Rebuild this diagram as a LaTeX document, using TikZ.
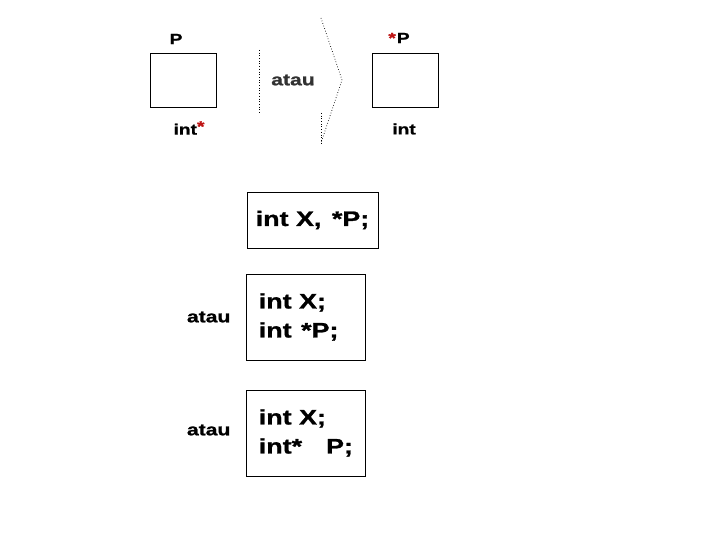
\documentclass[tikz,border=0pt]{standalone}
\usepackage{fontspec}
\setmainfont{Liberation Sans}
\newfontfamily\wideSans[FakeStretch=1.28, BoldFeatures={FakeBold=1.2}]{Liberation Sans}
\usetikzlibrary{positioning}
\definecolor{StarRed}{RGB}{190, 20, 20}
\definecolor{WordGray}{RGB}{50, 50, 50}

\begin{document}
\begin{tikzpicture}[
        x=1pt, y=-1pt,
        % Boxes
        cellBox/.style={rectangle, draw=black, line width=0.8pt, fill=white, inner sep=0pt},
        codeText/.style={rectangle, align=left, inner sep=0pt,
            font=\wideSans\fontsize{21}{29}\selectfont\bfseries},
        % Labels
        ptrLabel/.style={font=\wideSans\fontsize{15}{18}\selectfont\bfseries, inner sep=0pt},
        orWord/.style={font=\wideSans\fontsize{16.5}{19}\selectfont\bfseries, text=WordGray, inner sep=0pt},
        % Dotted guide lines
        guideLine/.style={dotted, line width=0.7pt, draw=black}
    ]
    \useasboundingbox (0,0) rectangle (720,540);

    % --- TOP: POINTER BEFORE / AFTER ---
    \node[cellBox, minimum width=66pt, minimum height=54pt] (boxL) at (183, 80) {};
    \node[cellBox, minimum width=66pt, minimum height=54pt] (boxR) at (405, 80) {};

    \node[ptrLabel] (pL)   at (176, 39)  {P};
    \node[ptrLabel] (intL) at (189, 128) {int\raisebox{3pt}{\textcolor{StarRed}{*}}};
    \node[ptrLabel] (pR)   at (399, 38)  {\textcolor{StarRed}{*}\hspace{1pt}P};
    \node[ptrLabel] (intR) at (404, 129) {int};

    \node[orWord] (or0) at (293, 80) {atau};

    % separator and chevron
    \coordinate (sepTop) at (259, 50);
    \coordinate (sepBot) at (259, 113);
    \coordinate (chevTop) at (321, 18);
    \coordinate (chevTip) at (342, 80);
    \coordinate (chevBot) at (321, 143);
    \coordinate (stemTop) at (321, 113);
    \draw[guideLine] (sepTop) -- (sepBot);
    \draw[guideLine] (chevTop) -- (chevTip) -- (chevBot);
    \draw[guideLine] (stemTop) -- (chevBot);

    % --- BOTTOM: THREE WAYS TO DECLARE ---
    \node[cellBox, minimum width=131pt, minimum height=56pt] (frame1) at (312.5, 220) {};
    \node[codeText, anchor=center] (code1) at (frame1) {int X,\hspace{3pt} *P;};

    \node[cellBox, minimum width=119pt, minimum height=86pt] (frame2) at (305.5, 317) {};
    \node[codeText, anchor=west] (code2) at ([xshift=13pt]frame2.west) {int X;\\int \hspace{2pt}*P;};

    \node[cellBox, minimum width=119pt, minimum height=86pt] (frame3) at (305.5, 433) {};
    \node[codeText, anchor=west] (code3) at ([xshift=13pt]frame3.west) {int X;\\int*\hspace{24pt}P;};

    \node[orWord, text=black, left=15pt of frame2] (or1) {atau};
    \node[orWord, text=black, left=15pt of frame3, yshift=3pt] (or2) {atau};

\end{tikzpicture}
\end{document}
